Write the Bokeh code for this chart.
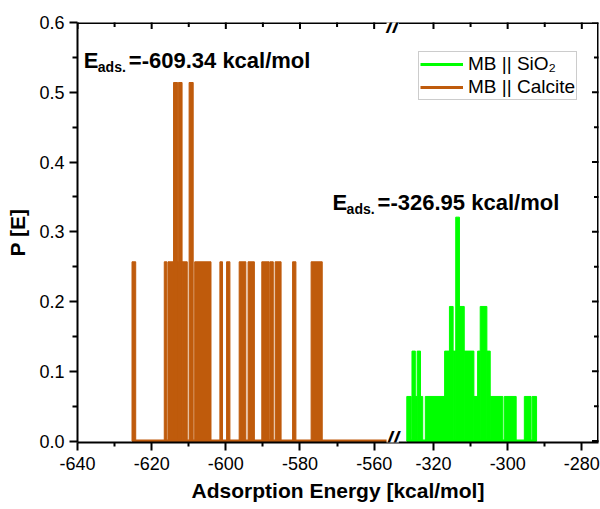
import math
import numpy as np
from bokeh.plotting import figure
from bokeh.models import (Range1d, FixedTicker, Label, Legend, LegendItem, PrintfTickFormatter,
                          Span)
from bokeh.embed import file_html
from bokeh.resources import INLINE

# ---------------- data ----------------
# MB || Calcite : probability intervals [left, right] with height P
calcite_left = [-625.3, -616.6, -615.6, -614.1, -613.0, -612.8, -611.8, -609.9, -608.4,
                -601.6, -599.8, -596.4, -594.0, -590.3, -588.1, -586.7, -582.0, -577.0]
calcite_right = [-624.3, -615.9, -614.1, -613.0, -612.8, -611.8, -610.4, -608.8, -604.0,
                 -600.9, -598.9, -594.6, -592.3, -588.3, -587.2, -585.1, -581.1, -574.0]
calcite_p = [0.257, 0.257, 0.257, 0.514, 0.257, 0.514, 0.257, 0.514, 0.257,
             0.257, 0.257, 0.257, 0.257, 0.257, 0.257, 0.257, 0.257, 0.257]

# MB || SiO2
sio2_left = [-327.2, -325.8, -324.9, -324.4, -323.5, -322.2, -317.0, -315.7, -314.7, -314.0,
             -313.0, -311.7, -309.1, -308.1, -307.4, -305.6, -304.7, -300.9, -295.5, -293.4]
sio2_right = [-326.0, -324.9, -324.4, -323.5, -322.9, -317.0, -315.7, -314.7, -314.0, -313.0,
              -311.7, -309.1, -308.1, -307.4, -305.6, -304.7, -301.3, -297.7, -293.7, -292.2]
sio2_p = [0.064, 0.129, 0.064, 0.129, 0.064, 0.064, 0.129, 0.193, 0.129, 0.321,
          0.193, 0.129, 0.064, 0.129, 0.193, 0.129, 0.064, 0.064, 0.064, 0.064]

x_major_ticks = [-640, -620, -600, -580, -560, -320, -300, -280]
x_minor_ticks = [-630, -610, -590, -570, -310, -290]
y_major_ticks = [0.0, 0.1, 0.2, 0.3, 0.4, 0.5, 0.6]
y_minor_ticks = [0.05, 0.15, 0.25, 0.35, 0.45, 0.55]

series_names = ["MB || SiO\u2082", "MB || Calcite"]
calcite_note = ("E", "ads.", "=-609.34 kcal/mol")
sio2_note = ("E", "ads.", "=-326.95 kcal/mol")
x_title = "Adsorption Energy [kcal/mol]"
y_title = "P [E]"

# axis break: left segment ends at L_END, right segment starts at L_END + SHIFT
L_END = -555.0
SHIFT = 224.0
X_MIN, X_MAX = -640.0, -275.5
Y_MIN, Y_MAX = -0.002, 0.6

ORANGE = "#BF5B0C"
GREEN = "#00FF00"
FONT = "Liberation Sans"


def to_disp(v):
    v = np.asarray(v, dtype=float)
    return np.where(v <= L_END, v, v - SHIFT)


X_DISP_MAX = float(to_disp(X_MAX))

p = figure(width=600, height=509, output_backend="svg", toolbar_location=None,
           x_range=Range1d(X_MIN, X_DISP_MAX), y_range=Range1d(Y_MIN, Y_MAX),
           min_border_left=77, min_border_right=2, min_border_top=22, min_border_bottom=67)
p.background_fill_color = "white"
p.border_fill_color = "white"
p.grid.visible = False
p.outline_line_color = None

x_major_disp = [float(t) for t in to_disp(x_major_ticks)]
x_minor_disp = [float(t) for t in to_disp(x_minor_ticks)]
x_overrides = {d: str(r) for d, r in zip(x_major_disp, x_major_ticks)}


def style(ax, tin, tout, min_in, min_out):
    ax.axis_line_width = 2
    ax.axis_line_color = "black"
    ax.major_tick_line_width = 2
    ax.minor_tick_line_width = 2
    ax.major_tick_line_color = "black"
    ax.minor_tick_line_color = "black"
    ax.major_tick_in = tin
    ax.major_tick_out = tout
    ax.minor_tick_in = min_in
    ax.minor_tick_out = min_out
    ax.major_label_text_font = FONT
    ax.major_label_text_color = "black"
    ax.axis_label_text_font = FONT
    ax.axis_label_text_font_style = "bold"
    ax.axis_label_text_color = "black"


# bottom axis
xa = p.xaxis[0]
xa.ticker = FixedTicker(ticks=x_major_disp, minor_ticks=x_minor_disp)
xa.major_label_overrides = x_overrides
style(xa, 0, 8, 0, 4)
xa.major_label_text_font_size = "18px"
xa.major_label_standoff = 6
xa.axis_label = x_title
xa.axis_label_text_font_size = "21px"
xa.axis_label_standoff = 6

# left axis
ya = p.yaxis[0]
ya.ticker = FixedTicker(ticks=y_major_ticks, minor_ticks=y_minor_ticks)
ya.formatter = PrintfTickFormatter(format="%.1f")
style(ya, 0, 8, 0, 5)
ya.major_label_text_font_size = "18px"
ya.major_label_standoff = 5
ya.axis_label = y_title
ya.axis_label_text_font_size = "21px"
ya.axis_label_standoff = 7

# top and right frame edges with inward ticks (drawn at the range limits)
p.scatter(x=x_major_disp, y=[Y_MAX] * len(x_major_disp), marker="dash", angle=math.pi / 2,
          size=13, line_color="black", line_width=2)
p.scatter(x=x_minor_disp, y=[Y_MAX] * len(x_minor_disp), marker="dash", angle=math.pi / 2,
          size=9, line_color="black", line_width=2)
p.scatter(x=[X_DISP_MAX] * len(y_major_ticks), y=y_major_ticks, marker="dash",
          size=13, line_color="black", line_width=2)
p.scatter(x=[X_DISP_MAX] * len(y_minor_ticks), y=y_minor_ticks, marker="dash",
          size=9, line_color="black", line_width=2)

# data
p.quad(left=to_disp(calcite_left), right=to_disp(calcite_right), bottom=0, top=calcite_p,
       fill_color=ORANGE, line_color=ORANGE, line_width=1)
p.quad(left=to_disp(sio2_left), right=to_disp(sio2_right), bottom=0, top=sio2_p,
       fill_color=GREEN, line_color=GREEN, line_width=1)

cal_line = p.line(x=[float(to_disp(min(calcite_left))), L_END], y=[0, 0],
                  line_color=ORANGE, line_width=3)
sio_line = p.line(x=[float(v) for v in to_disp([min(sio2_left), max(sio2_right)])], y=[0, 0],
                  line_color=GREEN, line_width=3)

# frame edges (top and right)
p.add_layout(Span(location=Y_MAX, dimension="width", line_color="black", line_width=3))
p.add_layout(Span(location=X_DISP_MAX, dimension="height", line_color="black", line_width=3))

legend = Legend(items=[LegendItem(label=series_names[0], renderers=[sio_line]),
                       LegendItem(label=series_names[1], renderers=[cal_line])],
                location=(341, 342), orientation="vertical")
legend.label_text_font = FONT
legend.label_text_font_size = "19px"
legend.label_text_color = "black"
legend.glyph_width = 43
legend.glyph_height = 20
legend.label_height = 20
legend.label_standoff = 5
legend.spacing = 1
legend.padding = 1
legend.margin = 0
legend.border_line_color = "#9a9a9a"
legend.border_line_width = 1
legend.background_fill_color = "white"
legend.background_fill_alpha = 1.0
p.add_layout(legend)


def note(x, y, parts):
    p.add_layout(Label(x=x, y=y, text=parts[0], text_font=FONT, text_font_size="22px",
                       text_font_style="bold", text_baseline="alphabetic", text_color="black"))
    p.add_layout(Label(x=x, y=y, x_offset=14, y_offset=-6, text=parts[1], text_font=FONT,
                       text_font_size="14px", text_font_style="bold",
                       text_baseline="alphabetic", text_color="black"))
    p.add_layout(Label(x=x, y=y, x_offset=45, text=parts[2], text_font=FONT,
                       text_font_size="22px", text_font_style="bold",
                       text_baseline="alphabetic", text_color="black"))


note(-638.3, 0.545, calcite_note)
note(-571.2, 0.342, sio2_note)

# axis break marks
for yb, off in ((0.0, 2), (Y_MAX, -3)):
    p.add_layout(Label(x=L_END, y=yb, y_offset=off, text="//", text_align="center",
                       text_baseline="middle", text_font=FONT, text_font_size="22px",
                       text_font_style="bold italic", text_color="black",
                       background_fill_color="white", background_fill_alpha=1.0))

open("out.html", "w").write(file_html(p, INLINE))
